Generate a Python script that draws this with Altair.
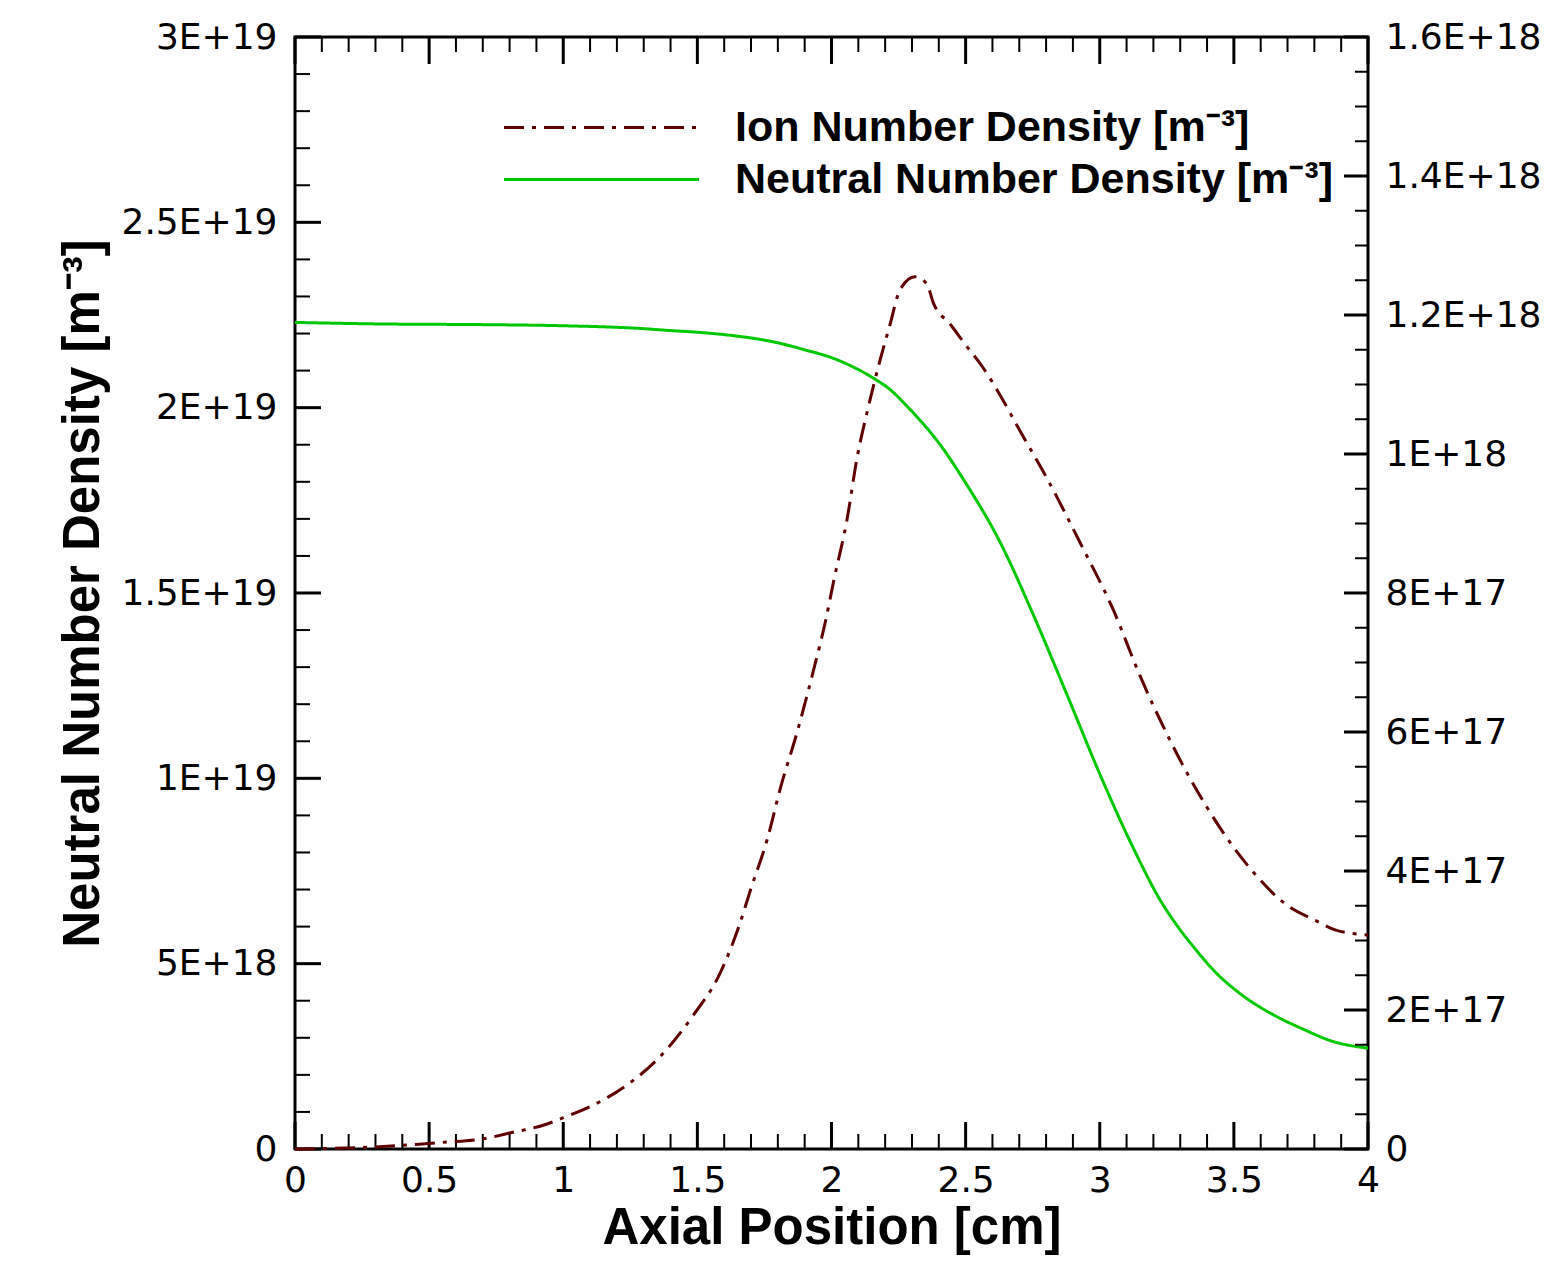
import altair as alt
import pandas as pd

# ---------------- data ----------------
x_neutral = [0.0, 0.3, 0.7, 1.0, 1.28, 1.40, 1.51, 1.60, 1.70, 1.80, 1.90, 2.00, 2.08,
             2.16, 2.22, 2.28, 2.34, 2.40, 2.50, 2.63, 2.75, 2.88, 3.00, 3.125, 3.225,
             3.30, 3.35, 3.43, 3.52, 3.65, 3.75, 3.87, 4.0]
neutral_e19 = [2.230, 2.226, 2.224, 2.221, 2.214, 2.208, 2.203, 2.197, 2.188, 2.175, 2.156,
               2.135, 2.110, 2.078, 2.048, 2.005, 1.958, 1.905, 1.797, 1.635, 1.445, 1.222,
               1.012, 0.812, 0.672, 0.591, 0.545, 0.478, 0.421, 0.361, 0.326, 0.290, 0.272]

x_ion = [0.0, 0.15, 0.3, 0.45, 0.55, 0.7, 0.8, 0.94, 1.0, 1.114, 1.238, 1.361, 1.485,
         1.584, 1.65, 1.70, 1.76, 1.81, 1.872, 1.933, 1.978, 2.008, 2.058, 2.095, 2.132,
         2.181, 2.218, 2.255, 2.311, 2.355, 2.38, 2.442, 2.504, 2.56, 2.628, 2.703, 2.802,
         2.926, 3.049, 3.15, 3.262, 3.399, 3.571, 3.697, 3.809, 3.88, 4.0]
ion_e17 = [0.0, 0.01, 0.03, 0.065, 0.095, 0.145, 0.23, 0.36, 0.45, 0.636, 0.922, 1.329,
           1.926, 2.524, 3.15, 3.75, 4.45, 5.2, 6.0, 6.89, 7.6, 8.17, 9.06, 9.94, 10.59,
           11.35, 11.86, 12.36, 12.55, 12.45, 12.17, 11.87, 11.55, 11.27, 10.85, 10.33,
           9.66, 8.73, 7.77, 6.81, 5.88, 4.92, 3.99, 3.51, 3.28, 3.15, 3.08]

ION = "Ion Number Density [m\u207b\u00b3]"
NEU = "Neutral Number Density [m\u207b\u00b3]"
series_names = [ION, NEU]
series_colors = ["#600000", "#00c800"]
series_dashes = [[20, 8, 4, 8], [1, 0]]

x_major = [0, 0.5, 1, 1.5, 2, 2.5, 3, 3.5, 4]
x_minor = [round(i * 0.1, 1) for i in range(41) if i % 5 != 0]
left_major = [i * 5e18 for i in range(7)]
left_minor = [i * 1e18 for i in range(31) if i % 5 != 0]
right_major = [i * 2e17 for i in range(9)]
right_minor = [i * 5e16 for i in range(33) if i % 4 != 0]

# ---------------- layout ----------------
W, H = 1073, 1112
LABEL_FONT = "DejaVu Sans"
TITLE_FONT = "Liberation Sans"

neu_df = pd.DataFrame({"x": x_neutral, "v": [v * 1e19 for v in neutral_e19], "series": NEU})
ion_df = pd.DataFrame({"x": x_ion, "v": [v * 1e17 for v in ion_e17], "series": ION})

xs = alt.Scale(domain=[0, 4], nice=False, zero=False)
yl = alt.Scale(domain=[0, 3e19], nice=False, zero=False)
yr = alt.Scale(domain=[0, 1.6e18], nice=False, zero=False)

sci = "datum.value == 0 ? '0' : replace(format(datum.value, '.2~e'), 'e', 'E')"

x_axis = alt.Axis(title="Axial Position [cm]", values=x_major, format="~g",
                  labelFont=LABEL_FONT, labelFontSize=36, labelColor="black",
                  labelPadding=14, labelFlush=False, labelOverlap=False,
                  titleFont=TITLE_FONT, titleFontSize=51, titleFontWeight="bold",
                  titleColor="black", titlePadding=5, ticks=False, domain=False,
                  grid=False)
yl_axis = alt.Axis(title=NEU, values=left_major, labelExpr=sci,
                   labelFont=LABEL_FONT, labelFontSize=36, labelColor="black",
                   labelPadding=18, labelFlush=False, labelOverlap=False,
                   titleFont=TITLE_FONT, titleFontSize=51, titleFontWeight="bold",
                   titleColor="black", titlePadding=12, ticks=False,
                   domain=False, grid=False)
yr_axis = alt.Axis(orient="right", title=None, values=right_major, labelExpr=sci,
                   labelFont=LABEL_FONT, labelFontSize=36, labelColor="black",
                   labelPadding=17, labelFlush=False, labelOverlap=False,
                   ticks=False, domain=False, grid=False)

# legend symbol: a horizontal stroke path (unit path scaled by sqrt(size)/2)
legend = alt.Legend(title=None, orient="none", legendX=285, legendY=69, padding=0,
                    symbolType="M-6,0H6", symbolSize=1056, symbolStrokeWidth=3,
                    labelFont=TITLE_FONT, labelFontSize=43, labelFontWeight="bold",
                    labelColor="black", labelOffset=112, labelLimit=0, rowPadding=8)

color = alt.Color("series:N", scale=alt.Scale(domain=series_names, range=series_colors),
                  legend=legend)
dash = alt.StrokeDash("series:N", scale=alt.Scale(domain=series_names, range=series_dashes),
                      legend=legend)

neutral_line = alt.Chart(neu_df).mark_line(strokeWidth=3, interpolate="monotone").encode(
    x=alt.X("x:Q", scale=xs, axis=x_axis),
    y=alt.Y("v:Q", scale=yl, axis=yl_axis),
    color=color, strokeDash=dash, order=alt.Order("x:Q"))

ion_line = alt.Chart(ion_df).mark_line(strokeWidth=3, interpolate="monotone").encode(
    x=alt.X("x:Q", scale=xs, axis=x_axis),
    y=alt.Y("v:Q", scale=yr, axis=yr_axis),
    color=color, strokeDash=dash, order=alt.Order("x:Q"))


def xticks(vals, length, width, top):
    df = pd.DataFrame({"t": vals})
    if top:
        y0, y1 = alt.value(0), alt.value(length)
    else:
        y0, y1 = alt.value(H), alt.value(H - length)
    return alt.Chart(df).mark_rule(color="black", strokeWidth=width).encode(
        x=alt.X("t:Q", scale=xs, axis=x_axis), y=y0, y2=y1)


def yticks(vals, scale, axis, length, width, right):
    df = pd.DataFrame({"t": vals})
    if right:
        x0, x1 = alt.value(W), alt.value(W - length)
    else:
        x0, x1 = alt.value(0), alt.value(length)
    return alt.Chart(df).mark_rule(color="black", strokeWidth=width).encode(
        y=alt.Y("t:Q", scale=scale, axis=axis), x=x0, x2=x1)


left_group = alt.layer(
    neutral_line,
    yticks(left_major, yl, yl_axis, 26, 3, False),
    yticks(left_minor, yl, yl_axis, 15, 2, False),
    xticks(x_major, 27, 3, False),
    xticks(x_minor, 15, 2, False),
    xticks(x_major, 27, 3, True),
    xticks(x_minor, 15, 2, True),
)

right_group = alt.layer(
    ion_line,
    yticks(right_major, yr, yr_axis, 24, 3, True),
    yticks(right_minor, yr, yr_axis, 13, 2, True),
)

chart = alt.layer(left_group, right_group).resolve_scale(y="independent").properties(
    width=W, height=H,
    autosize=alt.AutoSizeParams(type="none"),
    padding={"left": 287, "top": 29, "right": 182, "bottom": 108},
    background="white",
).configure_view(stroke="black", strokeWidth=3)

chart.save("out.html", embed_options={"renderer": "svg", "actions": False})
